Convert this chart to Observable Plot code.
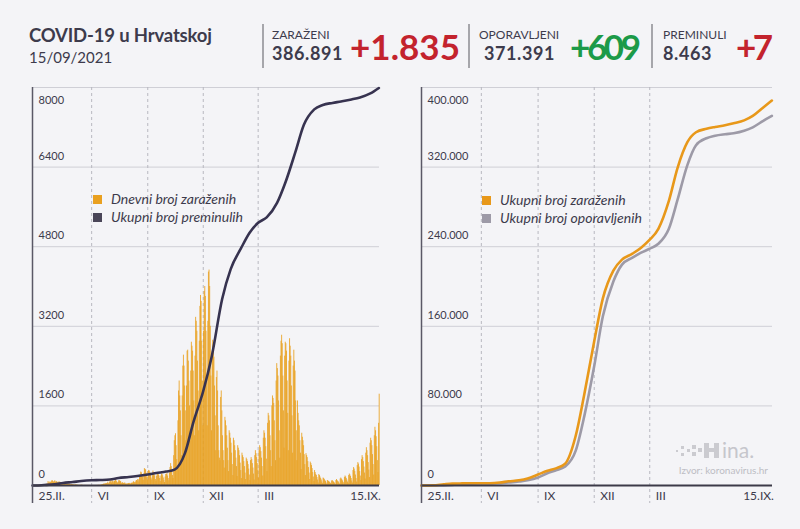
<!DOCTYPE html>
<html>
<head>
<meta charset="utf-8">
<script src="https://cdn.jsdelivr.net/npm/d3@7"></script>
<script src="https://cdn.jsdelivr.net/npm/@observablehq/plot@0.6"></script>
<style>
  body { margin: 0; background: #f4f4f7; }
  #wrap { position: relative; width: 800px; height: 529px; overflow: hidden; background: #f4f4f7; font-family: Lato, "Noto Sans", sans-serif; }
  .abs { position: absolute; }
  #overlay { position: absolute; left: 0; top: 0; pointer-events: none; }
</style>
</head>
<body>
<div id="wrap">
  <div id="left" class="abs" style="left:0;top:80px;"></div>
  <div id="right" class="abs" style="left:400px;top:80px;"></div>
  <svg id="overlay" width="800" height="529"></svg>
</div>
<script>
// ---------- header ----------
const titleText = "COVID-19 u Hrvatskoj";
const dateText = "15/09/2021";
const statLabels = ["ZARAŽENI", "OPORAVLJENI", "PREMINULI"];
const statTotals = ["386.891", "371.391", "8.463"];
const statChanges = ["+1.835", "+609", "+7"];

// ---------- legends ----------
const leftLegend = ["Dnevni broj zaraženih", "Ukupni broj preminulih"];
const rightLegend = ["Ukupni broj zaraženih", "Ukupni broj oporavljenih"];
const sourceText = "Izvor: koronavirus.hr";

// ---------- axes ----------
const xTickDates = ["2020-02-25", "2020-06-01", "2020-09-01", "2020-12-01", "2021-03-01", "2021-09-15"];
const xTickLabels = ["25.II.", "VI", "IX", "XII", "III", "15.IX."];
const leftYTicks = [0, 1600, 3200, 4800, 6400, 8000];
const rightYTicks = [0, 80000, 160000, 240000, 320000, 400000];

// ---------- daily new cases, one row per week starting Tuesday 25.02.2020 ----------
const dailyCases = [
  1,2,0,0,0,0,1,
  2,1,2,1,1,1,2,
  2,3,5,14,11,6,7,
  12,24,26,29,80,48,52,
  71,58,68,91,96,78,65,
  77,96,56,81,72,66,48,
  46,78,40,62,58,47,30,
  41,38,50,40,30,28,20,
  26,22,31,21,30,17,12,
  19,20,14,13,9,8,6,
  11,10,8,6,3,2,1,
  4,2,3,6,4,1,0,
  1,1,2,0,1,0,1,
  1,0,1,0,0,2,0,
  1,0,1,0,1,0,2,
  0,2,1,4,2,3,5,
  6,13,16,21,26,27,30,
  33,35,36,41,67,35,30,
  70,75,90,51,96,78,52,
  80,81,140,116,84,54,48,
  70,98,95,74,82,49,38,
  56,42,41,47,48,27,26,
  30,35,25,41,36,43,24,
  39,47,42,54,76,64,54,
  57,87,100,87,119,114,70,
  180,210,270,255,210,174,105,
  230,340,324,312,246,157,111,
  278,303,290,258,226,150,110,
  212,290,250,220,190,120,85,
  186,230,250,215,190,140,80,
  190,228,220,195,150,101,60,
  170,225,220,250,190,140,95,
  250,363,440,380,300,200,140,
  600,900,1000,1040,800,520,380,
  1300,1900,2100,1800,1500,1000,600,
  1800,2400,2620,2400,2000,1500,900,
  2000,2700,2720,2500,2100,1600,900,
  2300,2880,2800,2700,2300,1700,1000,
  2600,3380,3300,3100,2500,1900,1100,
  2900,3600,3820,3700,2900,2100,1200,
  3100,3900,4000,3800,3100,2200,1200,
  3300,4290,4330,4000,3200,2200,1100,
  2700,2920,2800,2580,2000,1400,700,
  2170,2300,1900,1200,700,550,500,
  1770,1900,1500,1000,700,500,350,
  1370,1300,1200,1000,750,500,280,
  1100,1050,950,850,650,420,200,
  950,900,800,700,550,380,180,
  800,750,700,600,450,300,140,
  650,600,560,480,380,250,120,
  550,520,480,420,330,210,100,
  500,560,520,440,350,230,110,
  600,700,640,560,440,300,150,
  700,800,760,680,550,380,190,
  950,1100,1050,950,780,530,280,
  1250,1450,1400,1300,1000,700,380,
  1600,1800,1750,1650,1300,900,500,
  2100,2450,2350,2200,1700,1100,550,
  2600,2900,3020,2850,2200,1500,750,
  2600,2880,2850,2700,2100,1450,700,
  2500,2950,2800,2600,2000,1400,650,
  2400,2720,2500,2300,1700,1100,500,
  1700,1450,1300,1200,900,650,320,
  1050,970,900,800,620,420,200,
  640,600,560,480,360,250,120,
  470,440,400,340,260,170,80,
  300,260,220,200,160,110,50,
  220,200,170,140,110,70,35,
  150,140,120,100,80,50,25,
  100,90,80,70,60,40,20,
  90,100,80,70,60,40,20,
  100,120,100,80,70,45,25,
  130,150,130,110,90,60,30,
  160,190,170,140,110,70,40,
  200,230,210,180,140,90,50,
  300,360,330,280,210,140,70,
  400,460,430,370,280,190,100,
  520,600,560,480,370,250,130,
  650,760,700,600,460,310,160,
  850,950,900,800,620,420,210,
  1000,1170,1100,980,780,500,260,
  1250,1835
];

// ---------- cumulative series sampled on the 1st and 15th ----------
const sampleDates = [
  "2020-02-25","2020-03-01","2020-03-15","2020-04-01","2020-04-15","2020-05-01","2020-05-15",
  "2020-06-01","2020-06-15","2020-07-01","2020-07-15","2020-08-01","2020-08-15","2020-09-01",
  "2020-09-15","2020-10-01","2020-10-15","2020-11-01","2020-11-15","2020-12-01","2020-12-15",
  "2021-01-01","2021-01-15","2021-02-01","2021-02-15","2021-03-01","2021-03-15","2021-04-01",
  "2021-04-15","2021-05-01","2021-05-15","2021-06-01","2021-06-15","2021-07-01","2021-07-15",
  "2021-08-01","2021-08-15","2021-09-01","2021-09-15"
];
const totalDeaths = [
  0,0,10,25,50,70,90,
  105,110,120,150,170,190,220,
  250,280,320,650,1280,1900,2600,
  3750,4350,4770,5080,5280,5390,5680,
  6100,6700,7250,7560,7650,7690,7720,
  7760,7800,7880,7990
];
const totalCases = [
  0,0,200,1200,1900,2100,2200,
  2250,2300,3000,4200,5200,7000,11000,
  14500,17500,22000,50000,92000,145000,188000,
  216000,227000,233000,239000,247000,258000,286000,
  319000,345000,355000,358500,360300,362000,364000,
  367000,371500,380000,386891
];
const totalRecovered = [
  0,0,0,100,500,1400,1900,
  2100,2150,2300,3000,4000,5200,8000,
  12000,15500,19000,35000,70000,120000,170000,
  205000,222000,229000,234000,238000,243000,258000,
  287000,322000,342000,349000,351500,353000,354000,
  356500,360000,366500,371391
];

// ---------- build tables ----------
const start = new Date(Date.UTC(2020, 1, 25));
const end = new Date(Date.UTC(2021, 8, 16));
const days = dailyCases.map((v, i) => ({ date: d3.utcDay.offset(start, i), cases: v }));
const samples = sampleDates.map((s, i) => ({
  date: new Date(s + "T00:00:00Z"),
  deaths: totalDeaths[i], cases: totalCases[i], recovered: totalRecovered[i]
}));
const ticks = xTickDates.map((s, i) => ({ date: new Date(s + "T00:00:00Z"), label: xTickLabels[i] }));
const midTicks = ticks.slice(1, -1);

const fmtDot = d3.formatLocale({ decimal: ",", thousands: ".", grouping: [3], currency: ["", ""] }).format(",");
const fmtPlain = d3.format("d");

const ORANGE = "#e9a020";
const ORANGE_LINE = "#e8981a";
const DARK = "#373350";
const GRAY_LINE = "#9d9aa7";
const TXT = "#3d3b4c";

function panel(yTicks, yFmt, marks, marginRight, marginLeft) {
  const top = yTicks[yTicks.length - 1];
  return Plot.plot({
    width: 400, height: 440,
    marginLeft, marginRight, marginTop: 7, marginBottom: 35,
    style: { background: "none", fontFamily: "Lato, 'Noto Sans', sans-serif", fontSize: "11px", color: TXT, overflow: "visible" },
    x: { type: "utc", domain: [start, end], axis: null },
    y: { domain: [0, top], axis: null },
    marks: [
      Plot.ruleY(yTicks.slice(1), { stroke: "#cfcfd6", strokeWidth: 1 }),
      Plot.ruleX(midTicks, { x: "date", stroke: "#b8b8c0", strokeWidth: 1, strokeDasharray: "3,3", insetBottom: -18 }),
      ...marks,
      Plot.ruleY([0], { stroke: "#3c3a48", strokeWidth: 2 }),
      Plot.ruleX([start], { stroke: "#5a5866", strokeWidth: 1.5, insetBottom: -18 }),
      Plot.text(yTicks.slice(0, -1), { y: d => d, text: d => yFmt(d), frameAnchor: "left", dx: 6, dy: -11, textAnchor: "start", fill: TXT }),
      Plot.text([top], { y: d => d, text: d => yFmt(d), frameAnchor: "left", dx: 6, dy: 13, textAnchor: "start", fill: TXT }),
      Plot.text(ticks.slice(0, -1), { x: "date", text: "label", frameAnchor: "bottom", dy: 14, dx: 6, textAnchor: "start", fill: TXT, fontSize: 12 }),
      Plot.text(ticks.slice(-1), { x: "date", text: "label", frameAnchor: "bottom", dy: 14, dx: 2, textAnchor: "end", fill: TXT, fontSize: 12 })
    ]
  });
}

const leftPlot = panel(leftYTicks, fmtPlain, [
  Plot.ruleX(days, { x: d => d3.utcHour.offset(d.date, 12), y1: 0, y2: "cases", stroke: ORANGE, strokeWidth: 0.85 }),
  Plot.line(samples, { x: "date", y: "deaths", stroke: DARK, strokeWidth: 2.6, curve: "monotone-x" })
], 21, 32);
document.getElementById("left").appendChild(leftPlot);

const rightPlot = panel(rightYTicks, fmtDot, [
  Plot.line(samples, { x: "date", y: "recovered", stroke: GRAY_LINE, strokeWidth: 2.6, curve: "monotone-x" }),
  Plot.line(samples, { x: "date", y: "cases", stroke: ORANGE_LINE, strokeWidth: 2.6, curve: "monotone-x" })
], 28, 21);
document.getElementById("right").appendChild(rightPlot);

// ---------- overlay: header, legends, source ----------
const svg = d3.select("#overlay");
const F = "Lato, 'Noto Sans', sans-serif";
svg.append("text").attr("x", 29).attr("y", 42).attr("font-family", F).attr("font-weight", 700)
  .attr("font-size", 18.5).attr("fill", TXT).attr("textLength", 183).text(titleText);
svg.append("text").attr("x", 29).attr("y", 63).attr("font-family", F)
  .attr("font-size", 15).attr("fill", TXT).text(dateText);

const sepX = [263, 469, 652];
const labelX = [272, 479, 663];
const totalX = [272, 484, 663];
const changeX = [350, 570, 736];
const changeW = [110, 71, 37];
const changeColor = ["#c3232d", "#1c9a48", "#c3232d"];
statLabels.forEach((lab, i) => {
  svg.append("line").attr("x1", sepX[i]).attr("x2", sepX[i]).attr("y1", 24).attr("y2", 68)
    .attr("stroke", "#8c8c92").attr("stroke-width", 1.5);
  svg.append("text").attr("x", labelX[i]).attr("y", 39).attr("font-family", F)
    .attr("font-size", 12).attr("fill", TXT).text(lab);
  svg.append("text").attr("x", totalX[i]).attr("y", 60).attr("font-family", F).attr("font-weight", 700)
    .attr("font-size", 18).attr("fill", TXT).attr("letter-spacing", 0.6).text(statTotals[i]);
  svg.append("text").attr("x", changeX[i]).attr("y", 60).attr("font-family", F).attr("font-weight", 700)
    .attr("font-size", 35).attr("fill", changeColor[i]).attr("textLength", changeW[i]).text(statChanges[i]);
});

function legend(x, y, labels, colors) {
  labels.forEach((lab, i) => {
    svg.append("rect").attr("x", x).attr("y", y + i * 18 - 5).attr("width", 9).attr("height", 9).attr("fill", colors[i]);
    svg.append("text").attr("x", x + 18).attr("y", y + i * 18 + 4).attr("font-family", F)
      .attr("font-style", "italic").attr("font-size", 14).attr("fill", TXT).text(lab);
  });
}
legend(93, 200, leftLegend, [ORANGE, "#4a4658"]);
legend(482, 201, rightLegend, [ORANGE_LINE, GRAY_LINE]);

// hina mark + source
const logo = svg.append("g").attr("fill", "#cbcbd0");
[[676,450,2],[681,446,3],[681,453,3],[687,449,3],[692,445,4],[692,452,4],[698,448,4]].forEach(([x,y,s]) =>
  logo.append("rect").attr("x", x).attr("y", y).attr("width", s).attr("height", s));
logo.append("rect").attr("x", 704).attr("y", 443).attr("width", 5).attr("height", 15);
logo.append("rect").attr("x", 709).attr("y", 448).attr("width", 5).attr("height", 4);
logo.append("rect").attr("x", 714).attr("y", 443).attr("width", 5).attr("height", 15);
svg.append("text").attr("x", 722).attr("y", 458).attr("font-family", F).attr("font-size", 21)
  .attr("fill", "#c6c6cc").text("ina.");
svg.append("text").attr("x", 768).attr("y", 474).attr("text-anchor", "end").attr("font-family", F)
  .attr("font-size", 10).attr("fill", "#bdbdc4").text(sourceText);
</script>
</body>
</html>
